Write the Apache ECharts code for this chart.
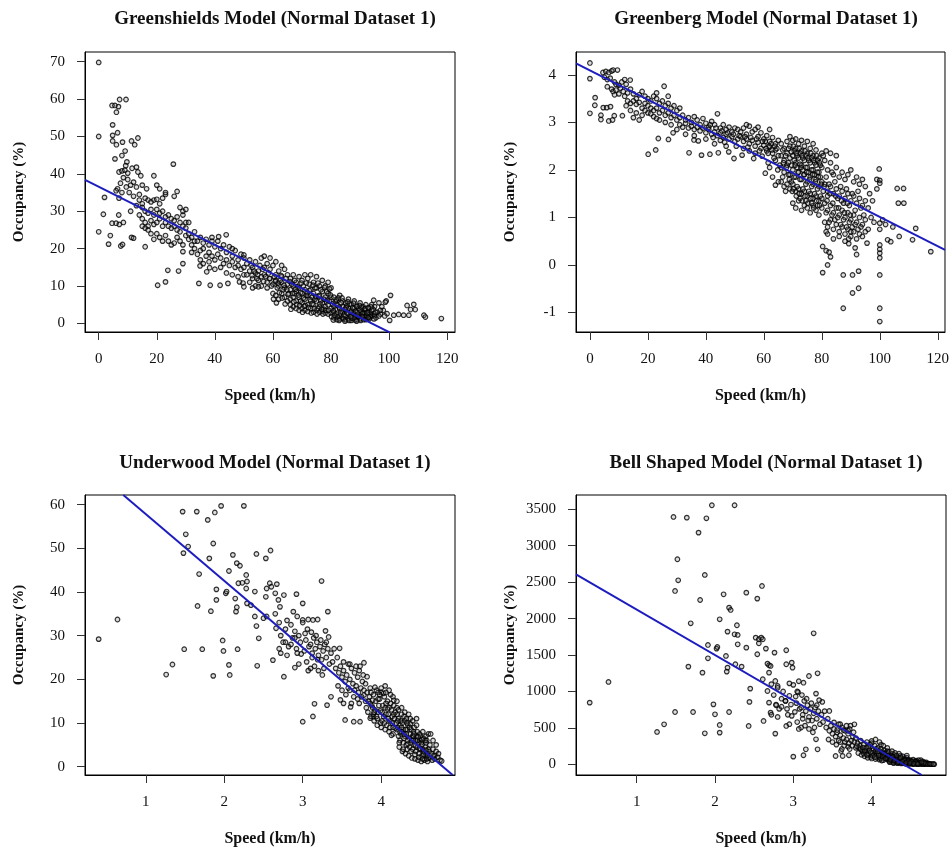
<!DOCTYPE html>
<html>
<head>
<meta charset="utf-8">
<script src="https://cdn.jsdelivr.net/npm/echarts@6/dist/echarts.min.js"></script>
<style>html,body{margin:0;padding:0;background:#fff;}#chart{width:952px;height:851px;}</style>
</head>
<body>
<div id="chart"></div>
<script>
// ---------- Data ----------
const panelTitles = [
  'Greenshields Model (Normal Dataset 1)',
  'Greenberg Model (Normal Dataset 1)',
  'Underwood Model (Normal Dataset 1)',
  'Bell Shaped Model (Normal Dataset 1)'
];
const xAxisTitle = 'Speed (km/h)';
const yAxisTitle = 'Occupancy (%)';

// tick values
const speedTicks = [0, 20, 40, 60, 80, 100, 120];
const greenshieldsYTicks = [0, 10, 20, 30, 40, 50, 60, 70];
const greenbergYTicks = [-1, 0, 1, 2, 3, 4];
const logSpeedTicks = [1, 2, 3, 4];
const underwoodYTicks = [0, 10, 20, 30, 40, 50, 60];
const bellYTicks = [0, 500, 1000, 1500, 2000, 2500, 3000, 3500];

// axis extents
const greenshieldsXRange = [-4.72, 122.7];
const greenshieldsYRange = [-2.3, 72.6];
const greenbergXRange = [-4.8, 122.5];
const greenbergYRange = [-1.41, 4.48];
const underwoodXRange = [0.226, 4.94];
const underwoodYRange = [-1.9, 62.2];
const bellXRange = [0.225, 4.95];
const bellYRange = [-147, 3696];

// fitted lines (end points)
const greenshieldsFitX = [-4.72, 100.2];
const greenshieldsFitY = [38.4, -2.4];
const greenbergFitX = [-4.8, 122.5];
const greenbergFitY = [4.24, 0.317];
const underwoodFitX = [0.714, 4.91];
const underwoodFitY = [62.2, -1.9];
const bellFitX = [0.225, 4.64];
const bellFitY = [2608, -147];

// observations [speed, occupancy]
const greenshieldsPoints = [
[0,69.8],[0,50],[0,24.5],[1.6,29.2],[2,33.7],[3.4,21.2],[4,23.5],[4.6,58.3],[5.6,58.3],[6.8,58],[7.2,59.9],[9.4,59.9],[6.1,56.5],[4.8,53.1],[4.8,50.3],[6.5,51],[4.8,48.8],[6.1,47.8],[8.2,48.5],[8,44.9],[9.1,46.1],[5.6,44],[9.7,43.2],[9.3,42.2],[11.3,48.8],[12.4,47.8],[13.5,49.6],
[7,40.5],[8,40.8],[9,41],[10,40.2],[11.5,41.5],[13,41.8],[13.5,40.5],[14.5,39.5],[8.5,39],[10,38.5],[12,37.8],[7.5,37.5],[6.5,36],[9.5,36.5],[11,37],[13,36.5],[15,37],[16.5,36],[8,35],[10.5,35],[12,34],[14,34.5],[7,33.5],[6,35.5],
[4.6,26.8],[6,26.8],[7.1,26.5],[8.5,27],[6.9,29],[7.6,20.7],[8.2,21.1],[11.3,23],
[14,33],[15,32],[16,33.5],[17,33],[18,32.5],[19,33],[20,33.2],[21,32],[22,33.5],[23,34.5],[15,31],[16,30],[17,29.5],[18,30.5],[19,29],[20,30.5],[21,29.5],[22,30],[23,28.5],[24,29],[25,28],[26,27.5],[27,28.5],[28,27],[29,29],[30,27],[14,29],[15,28],[16,27],[17,26],[18,27.5],[19,26.5],[20,27],[21,28],[22,26],[23,27],[24,26],[25,25.5],[26,26],[27,25],[28,24.5],[29,26],[30,25.5],[31,27],[15,26],[16,25.5],[17,25],[18,24],[19,22.5],[20,24],[21,23],[22,22],[23,23.5],[24,22],[25,21],[26,21.5],[27,23],[28,22],[29,21],[30,23.5],[31,22.5],[32,23],[33,22],[16,20.5],[19,39.5],[20,37],[21,36],[23,35],[25.7,42.6],[26,34],[27,35.3],[28,31],[29,30],[30,30.5],[20.3,10.2],[23,11.1],[23.8,14.2],[27.5,14],[29,16],[29,19.2],[12,22.8],[11,30],[13,31.5],
[31,24],[32,21],[33,24.5],[34,22],[35,23],[36,21.5],[37,22.5],[38,21],[39,22],[40,20.5],[41,22],[42,20],[43,21],[44,19],[45,20.5],[46,18],[47,19.5],[48,17],[49,18.5],[50,17.5],[32,19],[33,20],[34,18.5],[35,19.5],[36,20],[37,18],[38,19],[39,18],[40,17],[41,18.5],[42,17.5],[43,16],[44,17],[45,15.5],[46,16.5],[47,15],[48,15.5],[49,14.5],[50,15],[35,17],[36,16],[38,16.5],[40,14.5],[42,15],[44,13.5],[46,13],[48,12.5],[50,13],[34.5,10.7],[38.4,10.2],[41.8,10.2],[44.5,10.7],[48.5,11.1],[49.7,10.8],[34.9,15.4],[37.2,13.8],[38.2,14.9],[41.3,23.2],[43.9,23.7],[39,23],[46,20],[50,18.3],
[51,16],[52,17],[53,15],[54,16.5],[55,14],[56,17.5],[57,15],[58,16],[59,14.5],[60,15.5],[61,13],[62,14],[63,12.5],[64,14.5],[65,13],[51,13],[52,14],[53,12],[54,13.5],[55,11.5],[56,12.5],[57,13],[58,11],[59,12],[60,10.5],[61,11.5],[62,10],[63,11],[64,9.5],[65,10.5],[52,11],[54,10],[56,10],[58,9.5],[60,8],[61,7.5],[62,6.5],[63,8],[64,7],[65,6],[53,9.5],[57,18],[59,17.5],[61,16.5],[63,15.5],[55,9.8],[50,9.8],
[66,12],[67,13],[68,11],[69,12.5],[70,11.5],[71,13],[72,12],[73,13],[74,11],[75,12.5],[76,10],[77,11.5],[78,10],[79,11],[80,9.5],
[66,9],[67,10],[68,8.5],[69,9.5],[70,8],[71,9],[72,7.5],[73,9],[74,8],[75,9.5],[76,7.5],[77,8.5],[78,7],[79,8],[80,7],
[66,6.5],[67,7],[68,6],[69,7],[70,5.5],[71,6.5],[72,5],[73,6],[74,5],[75,6],[76,4.5],[77,5.5],[78,4.5],[79,5],[80,4],
[66,5],[67,4.5],[68,4],[69,3.5],[70,4],[71,3.5],[72,3.2],[73,4],[74,3],[75,3.5],[76,3],[77,3.2],[78,2.8],[79,2.5],[80,2.8],
[67.5,8],[69.5,6],[71.5,7.5],[73.5,7],[75.5,4],[77.5,6.5],[79.5,6],[70.5,10],[72.5,10.5],[74.5,9.5],[76.5,9],[78.5,8.5],
[81,7],[82,6],[83,7.5],[84,6],[85,5.5],[86,6.5],[87,5],[88,6],[89,4.5],[90,5.5],[91,4.5],[92,5],[93,4],[94,5],[95,4.5],
[81,4.5],[82,5],[83,4],[84,4.5],[85,3.5],[86,4],[87,3.5],[88,4],[89,3],[90,3.5],[91,3],[92,3.5],[93,3],[94,3.5],[95,2.5],
[81,3],[82,2.5],[83,2],[84,3],[85,2],[86,2.5],[87,2],[88,2.5],[89,2],[90,2],[91,2.2],[92,2],[93,2.3],[94,2],[95,2],
[81,1.5],[82,1],[83,1.2],[84,1.5],[85,1],[86,1.2],[87,0.8],[88,1.5],[89,1],[90,1.2],[91,1.5],[92,1],[93,1.5],
[81.5,5.8],[83.5,3.3],[85.5,4.8],[87.5,2.8],[89.5,4],[91.5,2.8],[93.5,2.5],[96,3],[97,2.5],[98,3.5],[96.5,5.5],[99,6],
[100.5,7.5],[98.7,5.7],[106.2,4.8],[108.5,5.1],[107.4,3.7],[109,3.7],[99.3,2.6],[101.6,2.2],[103.3,2.4],[105,2.2],[106.8,2.2],[112,2.2],[112.5,1.7],[118,1.3],[100.2,0.8],[97,3.5],[94.7,6.2],[95.3,3],
[60.5,12.5],[61.5,9.5],[62.5,11.5],[63.5,9],[64.5,12],[65.5,8],[66.5,10.5],[67.5,11.5],[68.5,9.8],[69.5,8.2],[70.5,6.8],[71.5,10.8],[72.5,8.8],[73.5,5.2],[74.5,6.5],[75.5,10.8],[76.5,6],[77.5,3.8],[78.5,5.8],[79.5,9.2],[80.5,5.2],[81.5,3.8],[82.5,6.8],[83.5,5.5],[84.5,2.2],[85.5,2.8],[86.5,5.2],[87.5,4.2],[88.5,3.2],[89.5,1.8],[90.5,4.2],[91.5,3.8],[92.5,2.8],[93.5,1.8],[94.5,3.8],[66.2,3.8],[68.2,5],[70.2,3],[72.2,4.2],[74.2,4],[76.2,5.2],[78.2,3.5],[80.2,1.8],[82.2,1.8],[84.2,1.2],[86.2,0.8],[88.2,0.9],[90.2,0.8],[64.2,5.2],[62.2,8.2],[60.2,6.5],[61.2,5.5],[63.2,6.8],[65.2,7.8],[67.2,5.8],[69.2,4.8],[71.2,4.8],[73.2,2.8],[75.2,2.5],[77.2,2.5],[79.2,3.5],[81.2,2.2],[83.2,2.8],[85.2,4.2],[87.2,1.4],[89.2,2.5],[91.2,1],[93.2,1.2],[95.5,1.5],[96.5,2],[97.5,4.5],[98.5,2],[57.5,12.5],[58.5,13.5],[59.5,10],[55.5,15.5],[56.5,14.5],[53.5,14],[54.5,12],[52.5,15.5],
[61.8,10.8],[63.8,10.2],[65.8,11.2],[67.8,9.2],[69.8,10.8],[71.8,8.2],[73.8,10.2],[75.8,7.2],[77.8,9.6],[79.8,7.6],[81.8,6.4],[83.8,6.8],[85.8,5.8],[87.8,5.4],[89.8,4.8],[91.8,4],[93.8,4.4],[68.8,7.6],[70.8,4.6],[72.8,6.4],[74.8,7.2],[76.8,3.8],[78.8,6.2],[80.8,3.4],[82.8,4.4],[84.8,3.8],[86.8,3],[88.8,4.6],[90.8,2.6],[92.8,1.6],[94.8,1.2],[86.8,1.8],[84.8,0.6],[82.8,0.8],[80.8,0.9],[88.8,0.6],[90.8,1.8],[92.8,4.2],[66.8,8],[64.8,9],[62.8,12.8],[60.8,11.2],[58.8,12],[56.8,11.2],[54.8,13],[52.8,12.8]
];

// observations [speed, ln(occupancy)]
const greenbergPoints = [
[0,4.25],[0,3.92],[0,3.19],[1.7,3.36],[1.8,3.52],[3.8,3.15],[3.8,3.06],[4.6,3.31],[5.8,3.31],[7.1,3.33],[6.5,3.03],[7.8,3.05],[8.4,3.14],[11.2,3.14],
[4.5,4.05],[5.5,4.07],[6.5,4.05],[7.5,4.08],[8,4.1],[9.5,4.1],[5,3.95],[6,3.9],[7,3.93],[8.5,3.85],[9,3.8],[10,3.78],[6,3.75],[7.5,3.7],[8,3.65],[9,3.68],[10.5,3.72],[11,3.85],[12,3.9],[13.9,3.89],[12.5,3.8],[8.5,3.58],[10,3.6],[11.5,3.65],
[12,3.55],[13,3.62],[14,3.7],[15,3.6],[16,3.5],[17,3.58],[18,3.65],[19,3.55],[20,3.5],[21,3.45],[22,3.55],[23,3.5],[24,3.4],[25,3.45],[26,3.35],[27,3.4],[28,3.3],[29,3.35],[30,3.25],
[13,3.45],[14,3.4],[15,3.45],[16,3.38],[17,3.42],[18,3.3],[19,3.4],[20,3.35],[21,3.3],[22,3.25],[23,3.3],[24,3.2],[25,3.25],[26,3.15],[27,3.2],[28,3.1],[29,3.15],[30,3.05],
[14,3.25],[16,3.2],[18,3.15],[20,3.2],[22,3.12],[24,3.05],[26,3.0],[28,2.95],[15,3.1],[17,3.05],[19,3.25],[21,3.18],[23,3.08],[12.5,3.35],[25.6,3.76],[27,3.55],[23,3.62],[20.1,2.33],[22.7,2.42],[23.6,2.66],[27.1,2.64],[28.7,2.78],[31,3.3],
[31,3.1],[32,3.15],[33,3.05],[34,3.1],[35,3.0],[36,3.12],[37,3.05],[38,2.95],[39,3.08],[40,2.98],[41,2.9],[42,3.02],[43,2.95],[44,3.18],[45,2.88],[46,2.95],[47,2.85],[48,2.9],[49,2.8],[50,2.88],
[31,2.95],[32,2.9],[33,2.98],[34,2.88],[35,2.92],[36,2.85],[37,2.9],[38,2.82],[39,2.88],[40,2.78],[41,2.85],[42,2.75],[43,2.8],[44,2.72],[45,2.78],[46,2.68],[47,2.75],[48,2.65],[49,2.7],[50,2.6],
[34.2,2.36],[38.5,2.31],[41.4,2.33],[44.3,2.36],[47.9,2.38],[49.7,2.24],[35.9,2.63],[37.4,2.61],[40,2.65],[43,2.55],[45,2.62],[47,2.5],[33,2.75],[30,2.85],[36,2.72],
[51,2.85],[52,2.8],[53,2.88],[54,2.75],[55,2.92],[56,2.8],[57,2.85],[58,2.7],[59,2.78],[60,2.65],[61,2.72],[62,2.6],[63,2.68],[64,2.55],[65,2.62],
[51,2.65],[52,2.7],[53,2.6],[54,2.65],[55,2.55],[56,2.62],[57,2.5],[58,2.58],[59,2.45],[60,2.52],[61,2.4],[62,2.48],[63,2.35],[64,2.42],[65,2.3],
[52.5,2.31],[56.5,2.24],[59.4,2.29],[53,2.45],[55,2.4],[57,2.35],[60.5,1.93],[62,2.05],[63,1.85],[64,1.68],[65,1.75],[61.5,2.15],[64,2.2],[58,2.9],[62,2.85],[54,2.95],
[66,2.55],[67,2.45],[68,2.6],[69,2.5],[70,2.62],[71,2.45],[72,2.55],[73,2.4],[74,2.5],[75,2.35],[76,2.45],[77,2.3],[78,2.42],[79,2.25],[80,2.35],
[66,2.3],[67,2.2],[68,2.35],[69,2.25],[70,2.3],[71,2.15],[72,2.25],[73,2.1],[74,2.2],[75,2.05],[76,2.15],[77,2.0],[78,2.1],[79,1.95],[80,2.05],
[66,2.05],[67,1.95],[68,2.1],[69,1.9],[70,2.0],[71,1.85],[72,1.95],[73,1.8],[74,1.9],[75,1.75],[76,1.85],[77,1.7],[78,1.8],[79,1.65],[80,1.75],
[66,1.75],[67,1.65],[68,1.7],[69,1.6],[70,1.7],[71,1.55],[72,1.6],[73,1.5],[74,1.55],[75,1.45],[76,1.5],[77,1.4],[78,1.45],[79,1.35],[80,1.4],
[70,1.3],[71,1.2],[72,1.35],[73,1.15],[74,1.25],[75,1.2],[76,1.1],[77,1.25],[78,1.15],[79,1.05],[80,1.2],
[68.5,2.45],[70.5,2.4],[72.5,2.35],[74.5,2.3],[76.5,2.25],[78.5,2.2],[69.5,2.1],[71.5,2.05],[73.5,2.0],[75.5,1.95],[77.5,1.9],[79.5,1.85],
[81,2.2],[82,2.0],[83,2.15],[84,1.9],[85,2.05],[86,1.85],[87,1.95],[88,1.8],[89,1.9],[90,2.0],[91,1.75],[92,1.85],[93,1.7],[94,1.8],[95,1.65],
[81,1.7],[82,1.55],[83,1.65],[84,1.5],[85,1.6],[86,1.45],[87,1.55],[88,1.4],[89,1.5],[90,1.35],[91,1.45],[92,1.3],[93,1.4],[94,1.25],[95,1.35],
[81,1.3],[82,1.15],[83,1.25],[84,1.1],[85,1.2],[86,1.05],[87,1.15],[88,1.0],[89,1.1],[90,0.95],[91,1.05],[92,0.9],[93,1.0],[94,0.85],[95,0.95],
[81,0.9],[82,0.8],[83,0.95],[84,0.75],[85,0.85],[86,0.7],[87,0.8],[88,0.65],[89,0.75],[90,0.6],[91,0.7],[92,0.55],[93,0.65],[94,0.6],[95,0.7],
[80.3,-0.16],[80.3,0.39],[81.5,0.7],[82,0.65],[81.5,0.3],[82.5,0.27],[83,0.17],[82,0.0],[87.4,-0.21],[87.4,-0.91],[90.6,-0.21],[90.6,-0.59],[92.7,-0.49],[92.7,-0.13],[91.5,0.36],[92,0.22],[95.6,0.46],[89.3,0.55],[89.3,0.45],
[96,1.2],[97,1.0],[98,0.9],[96.5,1.5],[97.5,1.35],[96,0.75],[99,1.8],[99,1.6],
[99.8,2.02],[100,1.78],[100,1.72],[100,0.88],[100,0.75],[100,0.42],[100,0.33],[100,0.25],[100,0.15],[100,-0.21],[100,-0.91],[100,-1.19],
[102.7,0.53],[103.8,0.49],[101,0.95],[102,0.85],[104.5,0.8],[106,1.61],[108.2,1.61],[106.4,1.3],[108.3,1.3],[112.4,0.77],[117.6,0.28],[106.7,0.6],[111.3,0.53],
[60.5,2.6],[61.5,2.35],[62.5,2.55],[63.5,2.25],[64.5,2.45],[65.5,2.1],[66.5,2.42],[67.5,2.3],[68.5,2.15],[69.5,2.38],[70.5,2.2],[71.5,2.3],[72.5,2.12],[73.5,2.25],[74.5,2.05],[75.5,2.2],[76.5,2.0],[77.5,2.15],[78.5,1.95],[79.5,2.1],[66.5,1.85],[67.5,1.55],[68.5,1.9],[69.5,1.75],[70.5,1.85],[71.5,1.65],[72.5,1.8],[73.5,1.6],[74.5,1.7],[75.5,1.55],[76.5,1.65],[77.5,1.5],[78.5,1.6],[79.5,1.45],[72.5,1.4],[74.5,1.35],[76.5,1.3],[78.5,1.25],[80.5,1.55],[81.5,1.85],[82.5,1.7],[83.5,1.95],[84.5,1.75],[85.5,1.4],[86.5,1.65],[87.5,1.3],[88.5,1.6],[89.5,1.25],[90.5,1.5],[91.5,1.15],[92.5,1.55],[93.5,1.2],[94.5,1.05],[81.5,1.1],[82.5,0.9],[83.5,1.05],[84.5,0.95],[85.5,1.0],[86.5,0.85],[87.5,0.95],[88.5,0.8],[89.5,0.9],[90.5,0.8],[91.5,0.85],[92.5,0.75],[93.5,0.8],[86,0.6],[88,0.5],[90,0.7],[84,0.55],[82,1.45],[80.5,2.3],[81.5,2.4],[83,2.35],[85,2.3],[77,2.55],[75,2.6],[73,2.62],[71,2.65],[69,2.7],
[41.5,2.95],[43.5,2.88],[45.5,2.82],[47.5,2.78],[49.5,2.75],[51.5,2.72],[53.5,2.7],[55.5,2.68],[57.5,2.65],[59.5,2.6],[42.5,2.68],[46.5,2.58],[50.5,2.5],[54.5,2.48],[58.5,2.4],
[70.2,2.5],[71.2,2.35],[72.2,2.45],[73.2,2.3],[74.2,2.4],[75.2,2.25],[76.2,2.35],[77.2,2.2],[78.2,2.3],[79.2,2.15],[70.8,2.1],[71.8,1.95],[72.8,2.05],[73.8,1.9],[74.8,1.95],[75.8,1.8],[76.8,1.9],[77.8,1.75],[78.8,1.85],[79.8,1.7],[70.2,1.6],[71.2,1.45],[72.2,1.5],[73.2,1.35],[74.2,1.45],[75.2,1.3],[76.2,1.4],[77.2,1.2],[78.2,1.35],[79.2,1.25],[80.8,1.65],[81.8,1.35],[82.8,1.5],[83.8,1.3],[84.8,1.45],[85.8,1.2],[86.8,1.35],[87.8,1.1],[88.8,1.3],[89.8,1.05],[66.8,2.15],[67.8,2.05],[68.8,1.8],[69.8,1.55],[64.8,2.0],[63.8,2.5],[62.8,2.42],[61.8,2.5],[60.8,2.45]
];

// observations [ln(speed), occupancy]
const underwoodPoints = [
[0.40,29.2],[0.64,33.7],[1.26,21.1],[1.34,23.4],[1.49,26.9],[1.72,26.9],[1.47,58.4],[1.65,58.4],[1.79,56.5],[1.88,58.2],[1.96,59.7],[2.25,59.7],[1.51,53.2],[1.54,50.4],[1.48,48.9],[1.86,51.1],[1.81,47.7],[1.68,44.1],[2.11,48.5],[2.41,48.7],[2.53,47.7],[2.59,49.5],[3.24,42.5],[2.16,46.6],[2.2,46],[2.28,43.9],[2.23,42.1],[2.29,42.4],[1.9,40.6],[1.9,38.2],[2.02,39.7],[2.03,40.1],[2.06,44.8],[2.18,42],[2.14,38.5],[2.16,36.5],[2.15,35.5],[1.66,36.8],[1.83,35.6],[1.98,28.9],[1.99,26.5],[1.86,20.8],[2.06,23.3],[2.07,21],[2.17,26.9],
[2.28,40.8],[2.29,37.4],[2.34,37],[2.39,40.1],[2.39,34.4],[2.41,32.2],[2.44,29.4],[2.42,23.1],[2.5,34],[2.54,34.4],[2.53,38.9],[2.54,40.8],[2.58,42],[2.6,41.2],[2.65,39.7],[2.67,41.8],[2.62,24.4],[2.76,20.6],[2.66,31.7],[2.69,38.2],[2.71,36.6],[2.76,39.3],[2.92,39.5],[3.0,37.4],[2.88,35.5],[2.93,34.4],[3.0,33.6],[3.07,33.7],[3.13,33.6],[3.19,33.7],[3.32,35.5],[3.29,31.1],[2.9,22.7],[3.0,10.3],[3.13,11.5],[3.15,14.4],[3.31,14.1],[3.36,16],[3.54,10.7],[3.65,10.3],[3.73,10.3],[3.86,11.1],[3.9,11.5],[3.48,15.3],[3.52,14.5],[3.61,13.7],[3.78,16.4],[3.47,27.1],[3.78,23.8],[3.82,20.6],
[2.65,35],[2.7,33],[2.72,30],[2.75,28.5],[2.78,31.5],[2.8,33.5],[2.82,27.5],[2.85,32.5],[2.87,29.5],[2.9,31],[2.92,27],[2.95,30],[2.97,28.5],[3.0,33],[3.02,26.5],[3.04,29],[3.06,31.5],[3.08,27.5],[3.1,28],[3.12,26],[3.14,29.5],[3.16,27],[3.18,28.5],[3.2,25.5],[3.22,27.5],[3.24,24.5],[3.26,26.5],[3.28,28],[3.3,25],[3.32,27],[3.34,23.5],[3.36,26],[3.38,24],[3.4,27],[2.72,26],[2.8,25.5],[2.85,28],[2.9,29.5],[2.98,25.8],[3.05,24],[3.1,22.5],[3.15,23],[3.2,22],[3.25,21],[2.7,27],[2.78,28.5],[2.93,26],[3.03,30.5],[3.11,30.8],[3.17,30],[3.23,29],[3.3,28.5],[3.33,29.7],[3.07,22],[2.95,23.5],[3.12,25],[3.19,24.5],[3.27,22.5],
[3.42,22.5],[3.44,25],[3.46,21.5],[3.48,23],[3.5,20.5],[3.52,22],[3.54,19.5],[3.56,21],[3.58,23.5],[3.6,20],[3.62,22.5],[3.64,19],[3.66,21.5],[3.68,18.5],[3.7,20.5],[3.72,22],[3.74,18],[3.76,19.5],[3.78,17.5],[3.8,19],
[3.45,18.5],[3.5,17.5],[3.55,16.5],[3.6,17.5],[3.65,16],[3.7,15.5],[3.75,16],[3.8,15],[3.52,24],[3.6,23.5],[3.68,23],[3.73,23],[3.58,18],[3.66,17.5],[3.72,14.5],[3.62,14.5],[3.77,21],[3.71,17],
[3.82,17],[3.84,15],[3.86,18],[3.88,14],[3.9,16.5],[3.92,13],[3.94,17.5],[3.96,12.5],[3.98,15.5],[4.0,18],[4.02,14],[4.04,16],[4.06,12],[4.08,15],[4.1,13.5],[4.12,16.5],[4.14,11.5],[4.16,14],[4.18,12.5],[4.2,15],
[3.83,12.5],[3.87,11.5],[3.91,10.5],[3.95,11],[3.99,10],[4.03,11.5],[4.07,9.5],[4.11,10.5],[4.15,9],[4.19,10],
[3.85,16],[3.89,13.5],[3.93,15],[3.97,14],[4.01,12.5],[4.05,13.5],[4.09,12],[4.13,13],[4.17,11],[4.2,12],
[3.9,12],[3.95,9.5],[4.0,9],[4.05,8.5],[4.1,8],[4.15,7.5],[4.2,8.5],[4.0,17],[4.05,18.5],[4.1,17.5],[4.15,16],[4.2,13.5],[3.98,16.5],[4.12,14.5],
[4.22,11],[4.24,9.5],[4.26,12],[4.28,8.5],[4.3,10.5],[4.32,7.5],[4.34,9.5],[4.36,6.5],[4.38,8.5],[4.4,7],[4.42,9],[4.44,6],[4.46,8],[4.48,5.5],[4.5,7],[4.52,5],[4.54,6.5],[4.56,4.5],[4.58,6],[4.6,4],
[4.22,7],[4.24,6],[4.26,8],[4.28,5.5],[4.3,7],[4.32,5],[4.34,6],[4.36,4.5],[4.38,5.5],[4.4,4],[4.42,5],[4.44,3.5],[4.46,4.5],[4.48,3],[4.5,4],[4.52,2.5],[4.54,3.5],[4.56,2.5],[4.58,3],[4.6,2],
[4.23,4.5],[4.27,3.5],[4.31,3],[4.35,2.5],[4.39,2],[4.43,1.8],[4.47,1.5],[4.51,1.2],[4.55,1.5],[4.59,1.2],
[4.25,10.5],[4.29,11.5],[4.33,10],[4.37,11],[4.41,8],[4.45,9.5],[4.49,7.5],[4.53,8],[4.57,7],[4.6,7.5],
[4.21,9],[4.25,7.5],[4.29,6.5],[4.33,8.5],[4.37,7.5],[4.41,6],[4.45,7],[4.49,6],[4.53,4],[4.57,5.5],[4.22,13],[4.26,13.5],[4.3,12.5],[4.35,12],[4.4,10.5],[4.45,11],
[4.62,5],[4.64,3],[4.66,4],[4.68,2.5],[4.7,5],[4.62,2],[4.65,1.5],[4.68,1.8],[4.72,2.2],[4.75,1.5],[4.77,1.3],[4.63,7.5],[4.66,6],[4.7,3.5],[4.73,3],
[3.81,13.5],[3.86,14.5],[3.91,12.5],[3.96,15.5],[4.01,10.5],[4.06,14.5],[4.11,9],[4.16,12],[4.21,10.5],[4.26,9],[4.31,8.5],[4.36,9],[4.41,7],[4.46,6],[4.51,5.5],[4.56,6],[4.61,3.5],[4.66,2.5],[4.23,5.5],[4.28,4],[4.33,4],[4.38,3.5],[4.43,2.8],[4.48,2.2],[4.53,1.8],[4.58,1.8],[4.27,10],[4.32,11],[4.37,9.8],[4.42,7.5],[4.47,6.8],[4.52,6.2],[4.57,3.8],[4.24,8],[4.29,7.5],[4.34,5.2],[4.39,6],[4.44,4.8],[4.49,4.2],[4.54,2.8],[4.59,2.5],[4.14,10],[4.09,11],[4.04,10],[3.99,12.8],[3.94,11.5],[3.89,15.2],[4.18,8.8],[4.13,7.2],[4.08,13.2],[4.03,16.8],[4.16,15.2],[4.06,17],[3.96,17],[3.87,17],[3.92,18.2]
];

// observations [ln(speed), occupancy^2]
const bellPoints = [
[0.40,846],[0.64,1130],[1.26,444],[1.35,549],[1.49,718],[1.72,718],[1.47,3395],[1.64,3385],[1.79,3180],[1.89,3376],[1.96,3555],[2.25,3555],[1.52,2814],[1.53,2525],[1.49,2379],[1.87,2599],[1.81,2255],[1.69,1935],[2.11,2333],[2.4,2356],[2.54,2274],[2.6,2448],[3.26,1798],[2.18,2150],[2.2,2118],[2.28,1908],[2.25,1784],[2.29,1775],[2.06,1990],[1.91,1638],[2.02,1588],[2.03,1610],[2.16,1821],[2.14,1487],[2.16,1327],[2.15,1272],[1.66,1341],[1.84,1258],[1.91,1455],[1.98,823],[2.0,686],[1.87,425],[2.06,540],[2.06,435],[2.18,718],
[2.29,1647],[2.26,1373],[2.34,1341],[2.4,1601],[2.45,1039],[2.44,856],[2.43,526],[2.52,1738],[2.54,1510],[2.56,1661],[2.56,1716],[2.59,1738],[2.61,1716],[2.65,1588],[2.67,1382],[2.69,1359],[2.61,1167],[2.62,595],[2.67,1006],[2.69,1258],[2.71,1350],[2.76,1533],[2.77,421],[2.91,1565],[2.91,1373],[2.98,1395],[2.99,1327],[2.77,1144],[2.8,1075],[2.69,846],[2.71,709],[2.91,526],[3.0,105],[3.13,124],[3.16,206],[3.31,206],[3.29,343],[3.2,1212],[3.31,1249],[3.29,970],[3.46,732],[3.37,856],[3.54,114],[3.63,114],[3.71,124],[3.61,183],[3.78,549],
[2.72,1100],[2.75,950],[2.78,820],[2.8,1050],[2.82,760],[2.85,900],[2.87,1000],[2.9,870],[2.92,760],[2.95,940],[2.97,820],[3.0,1090],[3.02,720],[3.04,840],[3.06,990],[3.08,760],[3.1,780],[3.12,680],[3.14,870],[3.16,730],[3.18,810],[3.2,650],[3.22,760],[3.24,600],[3.26,700],[3.28,780],[3.3,625],[3.32,730],[3.34,550],[3.36,680],[3.38,580],[3.4,730],[2.72,680],[2.8,650],[2.85,790],[2.9,870],[2.98,665],[3.05,580],[3.1,505],[3.15,530],[3.2,485],[3.25,440],[2.78,810],[2.93,680],[3.03,930],[3.11,950],[3.17,900],[3.23,840],[3.3,810],[3.33,880],[3.07,485],[2.95,550],[3.12,625],[3.19,600],[3.27,505],[3.13,1120],[3.07,1140],[2.95,1110],[3.05,1000],
[3.42,505],[3.44,625],[3.46,460],[3.48,530],[3.5,420],[3.52,485],[3.54,380],[3.56,440],[3.58,550],[3.6,400],[3.62,505],[3.64,360],[3.66,460],[3.68,340],[3.7,420],[3.72,485],[3.74,325],[3.76,380],[3.78,305],[3.8,360],
[3.45,340],[3.5,305],[3.55,270],[3.6,305],[3.65,255],[3.7,240],[3.75,255],[3.8,225],[3.52,575],[3.6,550],[3.68,530],[3.73,530],[3.58,325],[3.66,305],[3.72,210],[3.62,210],[3.77,440],[3.71,290],[3.56,470],[3.64,470],[3.7,460],
[3.82,290],[3.84,225],[3.86,325],[3.88,195],[3.9,270],[3.92,170],[3.94,305],[3.96,155],[3.98,240],[4.0,320],[4.02,195],[4.04,255],[4.06,145],[4.08,225],[4.1,180],[4.12,270],[4.14,130],[4.16,195],[4.18,155],[4.2,225],
[3.83,155],[3.87,130],[3.91,110],[3.95,120],[3.99,100],[4.03,130],[4.07,90],[4.11,110],[4.15,80],[4.19,100],
[3.85,255],[3.89,180],[3.93,225],[3.97,195],[4.01,155],[4.05,180],[4.09,145],[4.13,170],[4.17,120],[4.2,145],
[3.9,145],[3.95,90],[4.0,80],[4.05,72],[4.1,64],[4.15,56],[4.2,72],[4.0,290],[4.05,340],[4.1,305],[4.15,255],[4.2,180],[3.98,270],[4.12,210],
[4.22,120],[4.24,90],[4.26,145],[4.28,72],[4.3,110],[4.32,56],[4.34,90],[4.36,42],[4.38,72],[4.4,49],[4.42,81],[4.44,36],[4.46,64],[4.48,30],[4.5,49],[4.52,25],[4.54,42],[4.56,20],[4.58,36],[4.6,16],
[4.22,49],[4.24,36],[4.26,64],[4.28,30],[4.3,49],[4.32,25],[4.34,36],[4.36,20],[4.38,30],[4.4,16],[4.42,25],[4.44,12],[4.46,20],[4.48,9],[4.5,16],[4.52,6],[4.54,12],[4.56,6],[4.58,9],[4.6,4],
[4.25,110],[4.29,130],[4.33,100],[4.37,120],[4.41,64],[4.45,90],[4.49,56],[4.53,64],[4.57,49],[4.6,56],
[4.21,81],[4.25,56],[4.29,42],[4.33,72],[4.37,56],[4.41,36],[4.45,49],[4.49,36],[4.53,16],[4.57,30],[4.22,170],[4.26,180],[4.3,155],[4.35,145],[4.4,110],[4.45,120],
[4.62,25],[4.64,9],[4.66,16],[4.68,6],[4.7,25],[4.62,4],[4.65,2],[4.68,3],[4.72,5],[4.75,2],[4.78,2],[4.8,1],[4.63,56],[4.66,36],[4.7,12],[4.73,9],
[3.81,250],[3.86,210],[3.91,190],[3.96,240],[4.01,120],[4.06,210],[4.11,85],[4.16,145],[4.21,110],[4.26,85],[4.31,72],[4.36,80],[4.41,49],[4.46,36],[4.51,30],[4.56,36],[4.61,12],[4.66,6],[4.23,30],[4.28,16],[4.33,16],[4.38,12],[4.43,8],[4.48,5],[4.53,3],[4.58,3],[4.27,100],[4.32,120],[4.37,96],[4.42,56],[4.47,46],[4.51,38],[4.57,14],[4.24,64],[4.29,56],[4.34,27],[4.39,36],[4.44,23],[4.49,18],[4.54,8],[4.59,6],[4.14,100],[4.09,120],[4.04,100],[3.99,165],[3.94,130],[3.89,230],[4.18,78],[4.13,52],[4.08,175],[4.69,9],[4.71,4],[4.74,6],[4.76,3],[4.79,2],[4.67,20],[4.64,30]
];

// ---------- Chart ----------
const FONT = "'Liberation Serif', 'Times New Roman', 'DejaVu Serif', serif";
const INK = '#111';
const LINE_BLUE = '#1d1dbf';

const grids = [
  { left: 85,  top: 52,  width: 370, height: 280 },
  { left: 576, top: 52,  width: 370, height: 280 },
  { left: 85,  top: 495, width: 370, height: 280 },
  { left: 576, top: 495, width: 370, height: 280 }
].map(g => Object.assign({ show: true, borderColor: '#000', borderWidth: 1, backgroundColor: 'transparent', containLabel: false }, g));

function makeAxis(kind, gi, range, ticks) {
  const isX = kind === 'x';
  return {
    type: 'value', gridIndex: gi, min: range[0], max: range[1],
    axisLine: { show: true, onZero: false, lineStyle: { color: '#000', width: 1 } },
    axisTick: { show: true, inside: false, length: 8, customValues: ticks, lineStyle: { color: '#333', width: 1 } },
    axisLabel: { show: true, customValues: ticks, margin: 20, fontFamily: FONT, fontSize: 15, color: INK,
                 formatter: v => String(v) },
    splitLine: { show: false },
    name: isX ? xAxisTitle : yAxisTitle,
    nameLocation: 'middle',
    nameGap: isX ? 56 : 58,
    nameTextStyle: { fontFamily: FONT, fontWeight: 'bold', fontSize: isX ? 16 : 15, color: INK }
  };
}

const xAxes = [
  makeAxis('x', 0, greenshieldsXRange, speedTicks),
  makeAxis('x', 1, greenbergXRange, speedTicks),
  makeAxis('x', 2, underwoodXRange, logSpeedTicks),
  makeAxis('x', 3, bellXRange, logSpeedTicks)
];
const yAxes = [
  makeAxis('y', 0, greenshieldsYRange, greenshieldsYTicks),
  makeAxis('y', 1, greenbergYRange, greenbergYTicks),
  makeAxis('y', 2, underwoodYRange, underwoodYTicks),
  makeAxis('y', 3, bellYRange, bellYTicks)
];

const pointSets = [greenshieldsPoints, greenbergPoints, underwoodPoints, bellPoints];
const fits = [
  [greenshieldsFitX, greenshieldsFitY],
  [greenbergFitX, greenbergFitY],
  [underwoodFitX, underwoodFitY],
  [bellFitX, bellFitY]
];

const series = [];
pointSets.forEach((pts, i) => {
  series.push({
    type: 'scatter', xAxisIndex: i, yAxisIndex: i, data: pts,
    symbol: 'circle', symbolSize: 4.6,
    itemStyle: { color: 'rgba(110,110,110,0.3)', borderColor: '#000', borderWidth: 1.2 },
    emphasis: { disabled: true }, silent: true, z: 2
  });
  const fx = fits[i][0], fy = fits[i][1];
  series.push({
    type: 'line', xAxisIndex: i, yAxisIndex: i,
    data: fx.map((x, k) => [x, fy[k]]),
    symbol: 'none', clip: true,
    lineStyle: { color: LINE_BLUE, width: 2 },
    silent: true, z: 3
  });
});

const titleCenters = [[270, 5], [761, 5], [270, 449], [761, 449]];
const titles = panelTitles.map((t, i) => ({
  text: t, left: titleCenters[i][0], top: titleCenters[i][1], textAlign: 'center',
  textStyle: { fontFamily: FONT, fontWeight: 'bold', fontSize: 19, color: INK }
}));

const chart = echarts.init(document.getElementById('chart'), null, { renderer: 'canvas' });
chart.setOption({
  backgroundColor: '#fff',
  animation: false,
  title: titles,
  grid: grids,
  xAxis: xAxes,
  yAxis: yAxes,
  series: series
});
</script>
</body>
</html>
